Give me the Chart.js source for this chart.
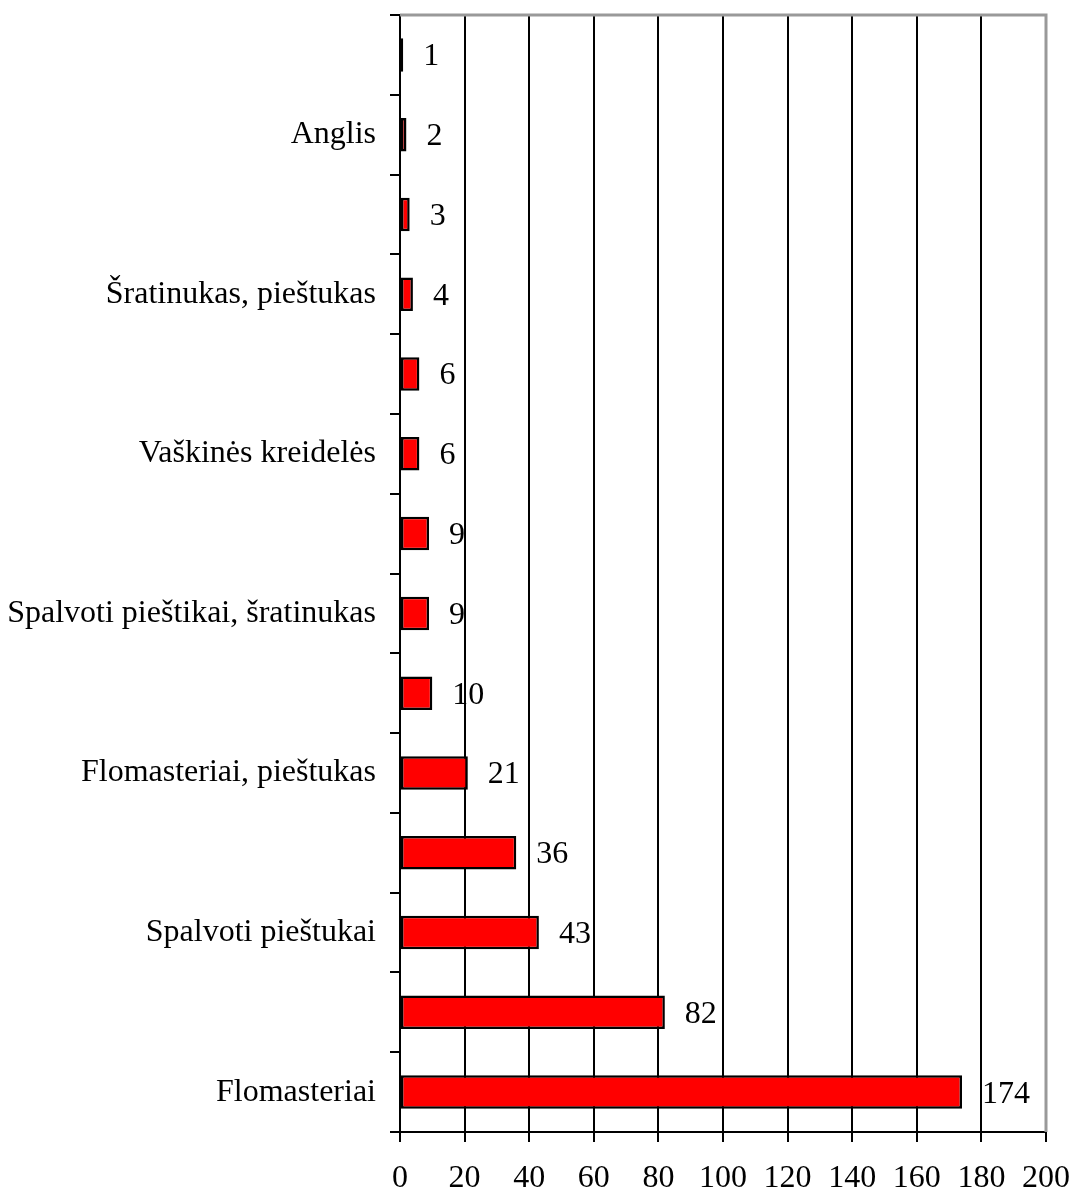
<!DOCTYPE html>
<html>
<head>
<meta charset="utf-8">
<script src="https://cdn.jsdelivr.net/npm/chart.js@4.4.1/dist/chart.umd.min.js"></script>
<style>
  html, body { margin: 0; padding: 0; background: #fff; }
  #wrap { width: 1071px; height: 1190px; }
</style>
</head>
<body>
<div id="wrap"><canvas id="toolsChart"></canvas></div>
<script>
// categories, top to bottom; every second row carries no name
var categories = [
    '', 'Anglis', '', 'Šratinukas, pieštukas', '', 'Vaškinės kreidelės', '',
    'Spalvoti pieštikai, šratinukas', '', 'Flomasteriai, pieštukas', '',
    'Spalvoti pieštukai', '', 'Flomasteriai'
];
var counts = [1, 2, 3, 4, 6, 6, 9, 9, 10, 21, 36, 43, 82, 174];
var xTicks = [0, 20, 40, 60, 80, 100, 120, 140, 160, 180, 200];

var serif = "'Liberation Serif', 'Times New Roman', serif";
var fontSize = 32;

// value written to the right of every bar
var barValues = {
    id: 'barValues',
    afterDatasetsDraw: function(chart) {
        var ctx = chart.ctx;
        var meta = chart.getDatasetMeta(0);
        ctx.save();
        ctx.font = fontSize + 'px ' + serif;
        ctx.fillStyle = '#000';
        ctx.textAlign = 'left';
        ctx.textBaseline = 'middle';
        meta.data.forEach(function(bar, i) {
            ctx.fillText(String(counts[i]), bar.x + 20, bar.y + 2);
        });
        ctx.restore();
    }
};

// grey frame along the top and right edges of the plot
var frame = {
    id: 'frame',
    afterDraw: function(chart) {
        var a = chart.chartArea;
        var ctx = chart.ctx;
        ctx.save();
        ctx.strokeStyle = '#999';
        ctx.lineWidth = 3;
        ctx.beginPath();
        ctx.moveTo(a.left, a.top);
        ctx.lineTo(a.right, a.top);
        ctx.lineTo(a.right, a.bottom);
        ctx.stroke();
        ctx.restore();
    }
};

var ctx = document.getElementById('toolsChart');
var chart = new Chart(ctx, {
    type: 'bar',
    data: {
        labels: categories,
        datasets: [{
            data: counts,
            backgroundColor: '#ff0000',
            borderColor: '#000',
            borderWidth: 2.5,
            borderSkipped: false,
            barPercentage: 0.42,
            categoryPercentage: 1.0
        }]
    },
    options: {
        indexAxis: 'y',
        responsive: true,
        maintainAspectRatio: false,
        animation: false,
        layout: { padding: { top: 15, right: 25, left: 0, bottom: 0 } },
        plugins: {
            legend: { display: false },
            tooltip: { enabled: false }
        },
        scales: {
            x: {
                min: 0,
                max: 200,
                afterBuildTicks: function(scale) {
                    scale.ticks = xTicks.map(function(v) { return { value: v }; });
                },
                afterFit: function(scale) {
                    scale.height = 58;
                    scale.paddingLeft = 0;
                    scale.paddingRight = 0;
                },
                ticks: {
                    color: '#000',
                    font: { family: serif, size: fontSize },
                    padding: 17,
                    maxRotation: 0
                },
                grid: {
                    color: function(c) { return c.tick && c.tick.value === 200 ? 'rgba(0,0,0,0)' : '#000'; },
                    tickColor: '#000',
                    lineWidth: 2,
                    tickLength: 10
                },
                border: { color: '#000', width: 2 }
            },
            y: {
                afterFit: function(scale) {
                    scale.width = 400;
                    scale.paddingTop = 0;
                    scale.paddingBottom = 0;
                },
                ticks: {
                    color: '#000',
                    font: { family: serif, size: fontSize },
                    autoSkip: false,
                    padding: 14
                },
                grid: {
                    offset: true,
                    drawOnChartArea: false,
                    tickColor: '#000',
                    lineWidth: 2,
                    tickLength: 10
                },
                border: { color: '#000', width: 2 }
            }
        }
    },
    plugins: [barValues, frame]
});
</script>
</body>
</html>
